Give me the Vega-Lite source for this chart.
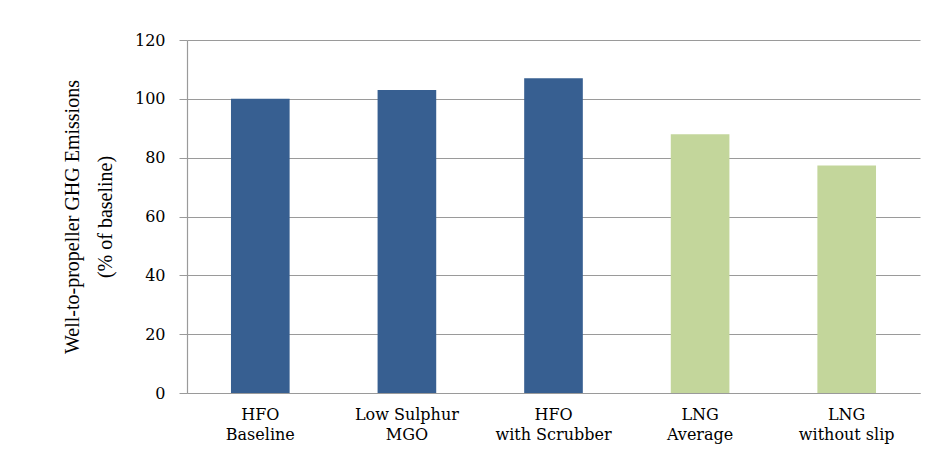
{
  "$schema": "https://vega.github.io/schema/vega-lite/v6.json",
  "width": 733,
  "height": 353,
  "autosize": {"type": "none"},
  "padding": {"left": 187, "top": 40, "right": 22, "bottom": 58},
  "background": "white",
  "data": {
    "values": [
      {"fuel": "HFO Baseline", "emissions": 100, "group": "Oil"},
      {"fuel": "Low Sulphur MGO", "emissions": 103, "group": "Oil"},
      {"fuel": "HFO with Scrubber", "emissions": 107, "group": "Oil"},
      {"fuel": "LNG Average", "emissions": 88, "group": "LNG"},
      {"fuel": "LNG without slip", "emissions": 77.3, "group": "LNG"}
    ]
  },
  "mark": {"type": "bar"},
  "encoding": {
    "x": {
      "field": "fuel",
      "type": "nominal",
      "sort": null,
      "scale": {"paddingInner": 0.6, "paddingOuter": 0.3},
      "axis": {
        "title": null,
        "labelAngle": 0,
        "ticks": false,
        "domainColor": "#9a9a9a",
        "domainWidth": 1.2,
        "labelFont": "DejaVu Serif",
        "labelFontSize": 16,
        "labelColor": "#000000",
        "labelPadding": 13,
        "labelLineHeight": 20,
        "labelBaseline": "top",
        "labelExpr": "datum.value == 'Low Sulphur MGO' ? ['Low Sulphur', 'MGO'] : [slice(datum.value, 0, indexof(datum.value, ' ')), slice(datum.value, indexof(datum.value, ' ') + 1)]"
      }
    },
    "y": {
      "field": "emissions",
      "type": "quantitative",
      "scale": {"domain": [0, 120], "nice": false},
      "axis": {
        "values": [0, 20, 40, 60, 80, 100, 120],
        "title": ["Well-to-propeller GHG Emissions", "(% of baseline)"],
        "titleFont": "Liberation Serif",
        "titleFontSize": 20,
        "titleFontWeight": "normal",
        "titleColor": "#000000",
        "titleLineHeight": 33,
        "titlePadding": 19,
        "labelFont": "DejaVu Serif",
        "labelFontSize": 16,
        "labelColor": "#000000",
        "labelPadding": 14,
        "tickSize": 8,
        "tickColor": "#9a9a9a",
        "domainColor": "#9a9a9a",
        "domainWidth": 1.2,
        "gridColor": "#9a9a9a",
        "gridWidth": 1.2
      }
    },
    "color": {
      "field": "group",
      "type": "nominal",
      "scale": {"domain": ["Oil", "LNG"], "range": ["#375F91", "#C3D69B"]},
      "legend": null
    }
  },
  "config": {"view": {"stroke": null}}
}
